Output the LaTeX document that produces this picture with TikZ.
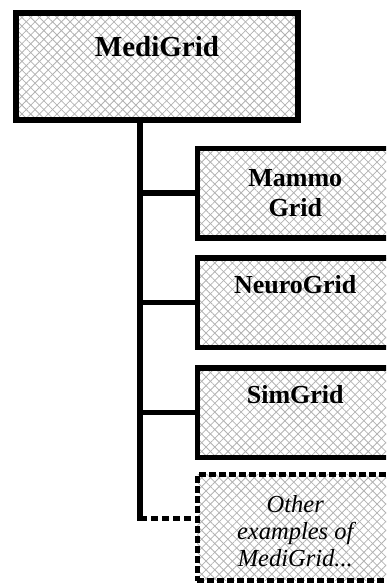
\documentclass[tikz,border=0pt]{standalone}
\usepackage{fontspec}
\setmainfont{Liberation Serif}
\usetikzlibrary{patterns.meta, positioning}
\tikzset{
    gridbox/.style={draw, line width=5.5pt, inner sep=0pt, anchor=north west,
        preaction={pattern={Lines[angle=45, distance=6.2pt, line width=0.8pt]}, pattern color=gray!60},
        pattern={Lines[angle=-45, distance=6.2pt, line width=0.8pt]}, pattern color=gray!60},
    otherbox/.style={gridbox, dash pattern=on 7pt off 3pt},
    gridlabel/.style={font=\fontsize{26}{30}\selectfont\bfseries, align=center,
        inner sep=0pt, anchor=north},
    otherlabel/.style={font=\fontsize{24.5}{27}\selectfont\itshape, align=center,
        inner sep=0pt, anchor=north},
    link/.style={line width=5.5pt},
    dotlink/.style={link, dash pattern=on 7pt off 4pt},
}
\begin{document}
\begin{tikzpicture}[x=1pt, y=-1pt]
    \useasboundingbox (0,0) rectangle (386,583);
    \clip (0,0) rectangle (386,583);

    % Boxes
    \node[gridbox, minimum width=282pt, minimum height=107pt,
        label={[gridlabel, font=\fontsize{29}{32}\selectfont\bfseries, yshift=-24pt]north:MediGrid}]
        (medigrid) at (15.5,12.5) {};
    \node[gridbox, minimum width=196pt, minimum height=89.5pt,
        label={[gridlabel, yshift=-24pt]north:Mammo\\Grid}]
        (mammo) at (194.5,145.5) {};
    \node[gridbox, minimum width=196pt, minimum height=89.5pt,
        label={[gridlabel, yshift=-20pt]north:NeuroGrid}]
        (neuro) at (194.5,255) {};
    \node[gridbox, minimum width=196pt, minimum height=89.5pt,
        label={[gridlabel, yshift=-20pt]north:SimGrid}]
        (sim) at (194.5,365) {};
    \node[otherbox, minimum width=196pt, minimum height=106.5pt,
        label={[otherlabel, yshift=-24pt]north:Other\\examples of\\MediGrid...}]
        (other) at (194.5,471.5) {};

    % Tree lines
    \coordinate (trunkend) at (140,521);
    \draw[link] (trunkend |- medigrid.south) -- (trunkend);
    \foreach \n in {mammo, neuro, sim} {
        \draw[link] (trunkend |- \n.west) -- (\n.west);
    }
    \draw[dotlink] ([yshift=2.5pt]trunkend) -- ([yshift=2.5pt]trunkend -| other.west);
\end{tikzpicture}
\end{document}
